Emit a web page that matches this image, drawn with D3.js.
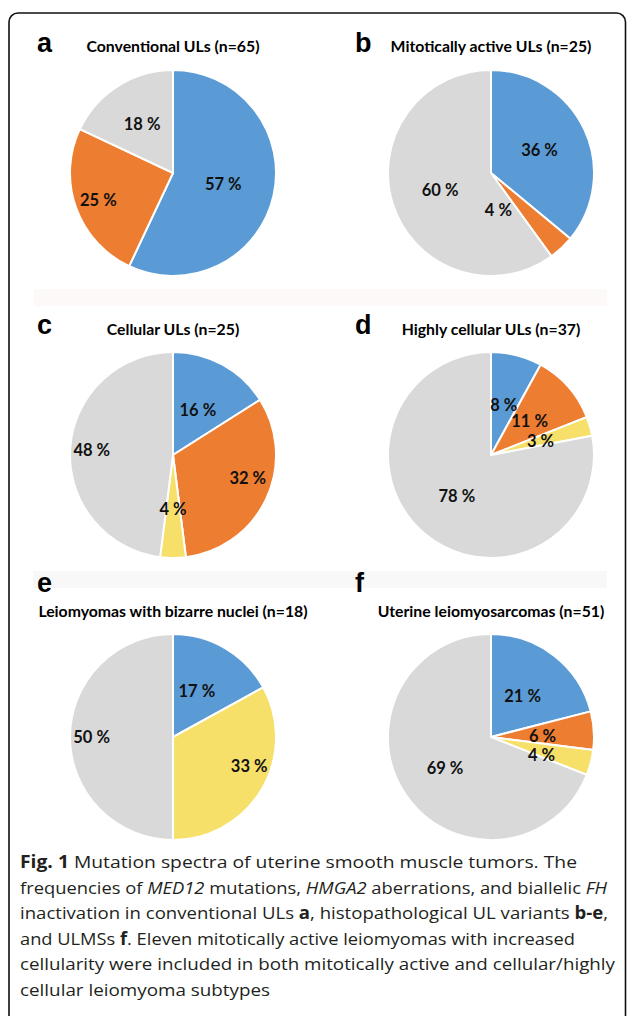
<!DOCTYPE html>
<html>
<head>
<meta charset="utf-8">
<script src="https://cdn.jsdelivr.net/npm/d3@7"></script>
<style>
  body { margin: 0; background: #fff; }
  svg { display: block; }
</style>
</head>
<body>
<script>
// panel letters and titles
var panelLetters = ["a", "b", "c", "d", "e", "f"];
var panelTitles = [
  "Conventional ULs (n=65)",
  "Mitotically active ULs (n=25)",
  "Cellular ULs (n=25)",
  "Highly cellular ULs (n=37)",
  "Leiomyomas with bizarre nuclei (n=18)",
  "Uterine leiomyosarcomas (n=51)"
];

// slice categories, clockwise from 12 o'clock
var categories = ["MED12", "HMGA2", "FH", "Other"];

// percent per panel (a..f)
var med12Values = [57, 36, 16, 8, 17, 21];
var hmga2Values = [25, 4, 32, 11, 0, 6];
var fhValues    = [0, 0, 4, 3, 33, 4];
var otherValues = [18, 60, 48, 78, 50, 69];

var svgWidth = 627;
var svgHeight = 1016;

var colors = d3.scaleOrdinal()
  .domain(categories)
  .range(["#5b9bd5", "#ed7d31", "#f7e06a", "#d9d9d9"]);

// label distance (fraction of radius) and angle shift (deg), per panel / slice
var labelLayout = [
  [[0.5, 0], [0.77, 0], [0.5, 0], [0.56, 0]],
  [[0.52, 0], [0.37, 32], [0.5, 0], [0.52, 0]],
  [[0.5, 0], [0.76, -8], [0.52, 0], [0.79, 0]],
  [[0.5, 0], [0.5, 0], [0.5, 0], [0.52, 0]],
  [[0.5, -3], [0.5, 0], [0.79, -10], [0.79, 0]],
  [[0.5, 0], [0.5, 3], [0.52, 5], [0.54, 0]]
];

var radius = 103;
var colX = [173, 491];
var rowY = [173, 455, 737];

var svg = d3.select("body")
  .append("svg")
  .attr("width", svgWidth)
  .attr("height", svgHeight);

// outer frame
svg.append("rect")
  .attr("x", 9)
  .attr("y", 13)
  .attr("width", 616.5)
  .attr("height", 1040)
  .attr("rx", 9)
  .attr("fill", "none")
  .attr("stroke", "#111")
  .attr("stroke-width", 1.6);

// faint bands between rows (left over from the original image)
svg.append("rect").attr("x", 34).attr("y", 289).attr("width", 573).attr("height", 17).attr("fill", "#fdf9f9");
svg.append("rect").attr("x", 33).attr("y", 571).attr("width", 574).attr("height", 17).attr("fill", "#f8f8f8");

var pie = d3.pie().sort(null).value(function(d) { return d.value; });
var arc = d3.arc().innerRadius(0).outerRadius(radius);

var letterY = [52, 334, 592];
var titleY = [45, 328, 610];

panelLetters.forEach(function(letter, i) {
  var col = i % 2;
  var row = Math.floor(i / 2);
  var cx = colX[col];
  var cy = rowY[row];

  var slices = categories.map(function(c, k) {
    var v = [med12Values, hmga2Values, fhValues, otherValues][k][i];
    return { cat: c, value: v, idx: k };
  });

  // letter
  svg.append("text")
    .attr("x", col === 0 ? 37 : 355)
    .attr("y", letterY[row])
    .style("font-family", "Liberation Sans, Arial, sans-serif")
    .style("font-weight", "bold")
    .style("font-size", "27px")
    .attr("fill", "#000")
    .text(letter);

  // title
  svg.append("text")
    .attr("x", cx)
    .attr("y", titleY[row])
    .attr("text-anchor", "middle")
    .attr("dominant-baseline", "central")
    .style("font-family", "Lato, 'Open Sans', sans-serif")
    .style("font-weight", "bold")
    .style("font-size", "15.8px")
    .attr("fill", "#000")
    .text(panelTitles[i]);

  var g = svg.append("g")
    .attr("transform", "translate(" + cx + "," + cy + ")");

  var arcs = pie(slices);

  g.selectAll("path")
    .data(arcs.filter(function(d) { return d.data.value > 0; }))
    .enter()
    .append("path")
    .attr("d", arc)
    .attr("fill", function(d) { return colors(d.data.cat); })
    .attr("stroke", "#fff")
    .attr("stroke-width", 2);

  g.selectAll("text")
    .data(arcs.filter(function(d) { return d.data.value > 0; }))
    .enter()
    .append("text")
    .attr("transform", function(d) {
      var lay = labelLayout[i][d.data.idx];
      var a = (d.startAngle + d.endAngle) / 2 + lay[1] * Math.PI / 180;
      var p = d3.pointRadial(a, lay[0] * radius);
      return "translate(" + p[0] + "," + p[1] + ")";
    })
    .attr("text-anchor", "middle")
    .attr("dominant-baseline", "central")
    .style("font-family", "Lato, 'Open Sans', sans-serif")
    .style("font-weight", "bold")
    .style("font-size", "16.5px")
    .attr("fill", "#111")
    .text(function(d) { return d.data.value + " %"; });
});

// caption
var captionLines = [
  [["Fig. 1", "b"], [" Mutation spectra of uterine smooth muscle tumors. The", ""]],
  [["frequencies of ", ""], ["MED12", "i"], [" mutations, ", ""], ["HMGA2", "i"], [" aberrations, and biallelic ", ""], ["FH", "i"]],
  [["inactivation in conventional ULs ", ""], ["a", "b"], [", histopathological UL variants ", ""], ["b-e", "b"], [",", ""]],
  [["and ULMSs ", ""], ["f", "b"], [". Eleven mitotically active leiomyomas with increased", ""]],
  [["cellularity were included in both mitotically active and cellular/highly", ""]],
  [["cellular leiomyoma subtypes", ""]]
];
var captionWidths = [557, 587, 588, 555, 595, 250];

captionLines.forEach(function(line, j) {
  var t = svg.append("text")
    .attr("x", 20)
    .attr("y", 868 + j * 25.6)
    .attr("textLength", captionWidths[j])
    .attr("lengthAdjust", "spacingAndGlyphs")
    .style("font-family", "'Open Sans', sans-serif")
    .style("font-size", "17px")
    .attr("fill", "#231f20");
  line.forEach(function(seg) {
    t.append("tspan")
      .style("font-weight", seg[1] === "b" ? "bold" : "normal")
      .style("font-style", seg[1] === "i" ? "italic" : "normal")
      .text(seg[0]);
  });
});
</script>
</body>
</html>
